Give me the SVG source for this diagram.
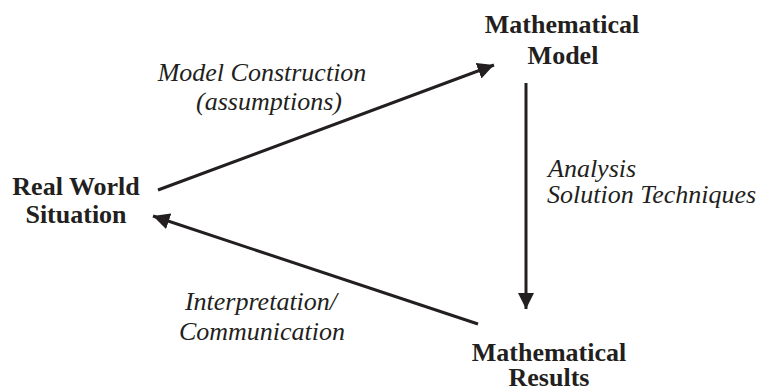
<svg xmlns="http://www.w3.org/2000/svg" width="763" height="387" viewBox="0 0 763 387">
<defs>
<marker id="ah" viewBox="0 0 10 10" refX="10" refY="5" markerWidth="5.5" markerHeight="5.5" markerUnits="strokeWidth" orient="auto">
<path d="M0,0 L10,5 L0,10 Z" fill="#231f20"/>
</marker>
</defs>
<rect width="763" height="387" fill="#fff"/>
<g id="real-world" font-family="Times New Roman, serif" font-weight="bold" font-size="26" fill="#231f20" text-anchor="middle">
<text x="76" y="195">Real World</text>
<text x="76" y="223">Situation</text>
</g>
<g id="math-model" font-family="Liberation Serif, serif" font-weight="bold" font-size="26" fill="#231f20" text-anchor="middle">
<text x="562" y="33">Mathematical</text>
<text x="563" y="64">Model</text>
</g>
<g id="math-results" font-family="serif" font-weight="bold" font-size="26" fill="#231f20" text-anchor="middle">
<text x="549" y="361">Mathematical</text>
<text x="549" y="386">Results</text>
</g>
<g id="connectors">
<g fill="none" stroke="#231f20" stroke-width="3">
<line x1="158" y1="190" x2="494" y2="65" marker-end="url(#ah)"/>
<line x1="526" y1="83" x2="526" y2="309" marker-end="url(#ah)"/>
<line x1="478" y1="324" x2="153" y2="216" marker-end="url(#ah)"/>
</g>
<g font-family="Liberation Serif, Times New Roman, serif" font-style="italic" font-size="26" fill="#231f20">
<text x="262" y="81" text-anchor="middle">Model Construction</text>
<text x="269" y="110" text-anchor="middle">(assumptions)</text>
<text x="548" y="177">Analysis</text>
<text x="547" y="203">Solution Techniques</text>
<text x="261" y="310" text-anchor="middle">Interpretation/</text>
<text x="262" y="340" text-anchor="middle">Communication</text>
</g>
</g>
</svg>
